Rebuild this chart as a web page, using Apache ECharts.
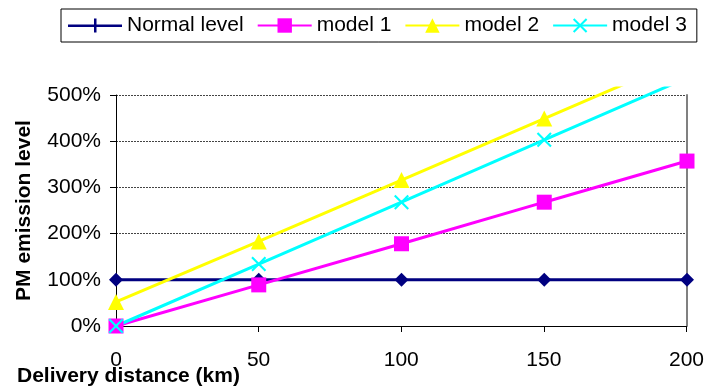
<!DOCTYPE html>
<html>
<head>
<meta charset="utf-8">
<script src="https://cdn.jsdelivr.net/npm/echarts@6/dist/echarts.min.js"></script>
<style>
html,body{margin:0;padding:0;background:#fff;}
#chart{width:707px;height:389px;}
</style>
</head>
<body>
<div id="chart"></div>
<script>
var distances = [0, 50, 100, 150, 200];
var normalLevel = [100, 100, 100, 100, 100];
var model1 = [0, 89, 178, 268, 357];
var model2 = [52, 183, 316, 449, 582];
var model3 = [0, 134, 268, 403, 537];
var seriesNames = ['Normal level', 'model 1', 'model 2', 'model 3'];
var yTicks = [0, 100, 200, 300, 400, 500];

var FONT = 'Liberation Sans, Arial, sans-serif';

function pairs(vals) {
  return distances.map(function (d, i) { return [d, vals[i]]; });
}

var chart = echarts.init(document.getElementById('chart'), null, {renderer: 'canvas'});

var xPath = 'path://M2,0L10,8L18,0L20,2L12,10L20,18L18,20L10,12L2,20L0,18L8,10L0,2Z';

var option = {
  animation: false,
  backgroundColor: '#ffffff',
  textStyle: {fontFamily: FONT},
  title: {
    text: 'Delivery distance (km)',
    left: 17, top: 366, padding: 0,
    textStyle: {fontSize: 21, fontWeight: 'bold', color: '#000', fontFamily: FONT}
  },
  legend: {
    left: 61, top: 9,
    padding: [6, 10, 6, 7],
    borderColor: '#000', borderWidth: 1,
    itemWidth: 54, itemHeight: 18, itemGap: 13,
    textStyle: {fontSize: 21, color: '#000', fontFamily: FONT, padding: [0, 0, 0, 0]},
    data: [
      {name: seriesNames[0], icon: 'path://M0,8L54,8L54,10.5L0,10.5Z M26,2L28.5,2L28.5,16L26,16Z'},
      {name: seriesNames[1]},
      {name: seriesNames[2]},
      {name: seriesNames[3]}
    ]
  },
  grid: [
    {left: 116, right: 20, top: 95, bottom: 63},
    {left: 116, right: 20, top: 88, bottom: 63}
  ],
  xAxis: [
    {
      gridIndex: 0, type: 'value', min: 0, max: 200, interval: 50,
      axisLine: {show: true, lineStyle: {color: '#000', width: 1}},
      axisTick: {show: true, length: 6, lineStyle: {color: '#000'}},
      axisLabel: {fontSize: 21, color: '#000', margin: 24, fontFamily: FONT},
      splitLine: {show: false}
    },
    {
      gridIndex: 1, type: 'value', min: 0, max: 200, show: false
    }
  ],
  yAxis: [
    {
      gridIndex: 0, type: 'value', min: 0, max: 500, interval: 100,
      name: 'PM emission level', nameLocation: 'middle', nameGap: 81, nameRotate: 90,
      nameTextStyle: {fontSize: 21, fontWeight: 'bold', color: '#000', fontFamily: FONT},
      axisLine: {show: true, lineStyle: {color: '#000', width: 1}},
      axisTick: {show: true, length: 6, lineStyle: {color: '#000'}},
      axisLabel: {fontSize: 21, color: '#000', margin: 15, fontFamily: FONT,
        formatter: function (v) { return v + '%'; }},
      splitLine: {show: true, lineStyle: {color: '#444', width: 1, type: [2, 1]}}
    },
    {
      gridIndex: 0, type: 'value', min: 0, max: 500, position: 'right',
      axisLine: {show: true, lineStyle: {color: '#808080', width: 2}},
      axisTick: {show: false}, axisLabel: {show: false}, splitLine: {show: false}
    },
    {
      gridIndex: 1, type: 'value', min: 0, max: 500 * 238 / 231, show: false
    }
  ],
  series: [
    {
      name: seriesNames[0], type: 'line', xAxisIndex: 1, yAxisIndex: 2,
      data: pairs(normalLevel), symbol: 'diamond', symbolSize: 14,
      lineStyle: {color: '#000080', width: 3}, itemStyle: {color: '#000080'}, color: '#000080'
    },
    {
      name: seriesNames[1], type: 'line', xAxisIndex: 1, yAxisIndex: 2,
      data: pairs(model1), symbol: 'rect', symbolSize: 15,
      lineStyle: {color: '#FF00FF', width: 3}, itemStyle: {color: '#FF00FF'}, color: '#FF00FF'
    },
    {
      name: seriesNames[2], type: 'line', xAxisIndex: 1, yAxisIndex: 2,
      data: pairs(model2), symbol: 'triangle', symbolSize: 16,
      lineStyle: {color: '#FFFF00', width: 3}, itemStyle: {color: '#FFFF00'}, color: '#FFFF00'
    },
    {
      name: seriesNames[3], type: 'line', xAxisIndex: 1, yAxisIndex: 2,
      data: pairs(model3), symbol: xPath, symbolSize: 15,
      lineStyle: {color: '#00FFFF', width: 3}, itemStyle: {color: '#00FFFF'}, color: '#00FFFF'
    }
  ]
};
chart.setOption(option);
</script>
</body>
</html>
